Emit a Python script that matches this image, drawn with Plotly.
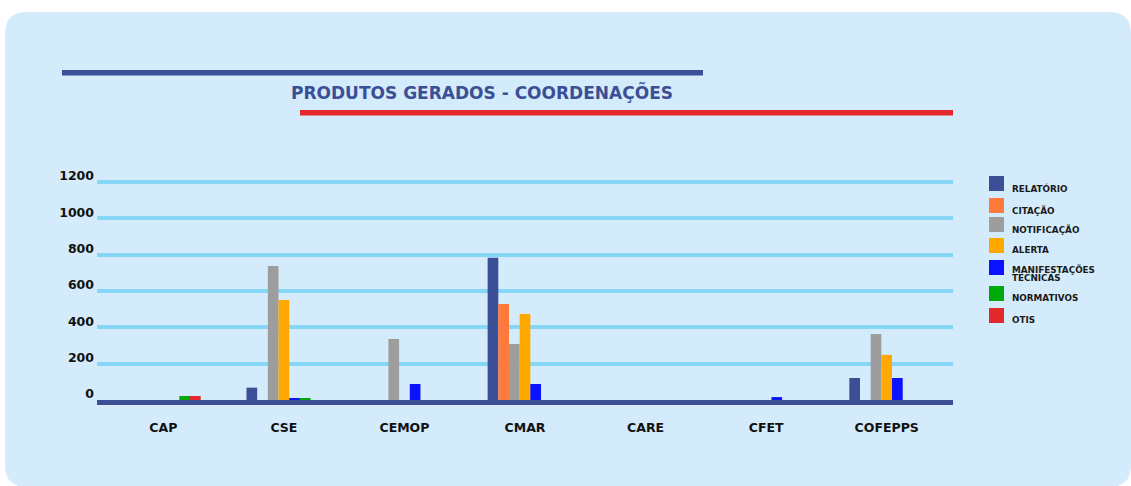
import plotly.graph_objects as go

# Coordination units and product categories
categories = ["CAP", "CSE", "CEMOP", "CMAR", "CARE", "CFET", "COFEPPS"]

relatorio = [0, 68, 0, 783, 0, 0, 121]
citacao = [0, 0, 0, 528, 0, 0, 0]
notificacao = [0, 738, 336, 308, 0, 0, 363]
alerta = [0, 550, 0, 473, 0, 0, 248]
manifestacoes = [0, 11, 88, 88, 0, 16, 121]
normativos = [22, 11, 0, 0, 0, 0, 0]
otis = [22, 0, 0, 0, 0, 0, 0]

series_names = ["RELATÓRIO", "CITAÇÃO", "NOTIFICAÇÃO", "ALERTA",
                "MANIFESTAÇÕES<br>TECNICAS", "NORMATIVOS", "OTIS"]
series_values = [relatorio, citacao, notificacao, alerta,
                 manifestacoes, normativos, otis]
series_colors = ["#3b4f97", "#ff793a", "#9d9d9d", "#ffa800",
                 "#0a12ff", "#00a90a", "#e2282a"]

y_ticks = [0, 200, 400, 600, 800, 1000, 1200]

FONT = "DejaVu Sans"
W, H = 1131, 486
PL, PR, PT, PB = 97, 953, 160, 400  # plot area in pixels

def xp(px):
    return (px - PL) / (PR - PL)

def yp(py):
    return (PB - py) / (PB - PT)

fig = go.Figure()
for name, vals, col in zip(series_names, series_values, series_colors):
    fig.add_trace(go.Bar(x=categories, y=vals, name=name.replace("<br>", " "),
                         marker=dict(color=col, line=dict(width=0)),
                         showlegend=False))

shapes = []

# rounded card behind everything
cx0, cx1, cy0, cy1, r = 5, 1131, 12, 487, 22
rx, ry = r / (PR - PL), r / (PB - PT)
X0, X1, Yt, Yb = xp(cx0), xp(cx1), yp(cy0), yp(cy1)
card = (f"M {X0+rx},{Yt} L {X1-rx},{Yt} Q {X1},{Yt} {X1},{Yt-ry} "
        f"L {X1},{Yb+ry} Q {X1},{Yb} {X1-rx},{Yb} L {X0+rx},{Yb} "
        f"Q {X0},{Yb} {X0},{Yb+ry} L {X0},{Yt-ry} Q {X0},{Yt} {X0+rx},{Yt} Z")
shapes.append(dict(type="path", path=card, xref="paper", yref="paper",
                   fillcolor="#d4ebfb", line=dict(width=0), layer="below"))

# decorative title rules
shapes.append(dict(type="rect", xref="paper", yref="paper",
                   x0=xp(62), x1=xp(703), y0=yp(75.5), y1=yp(70),
                   fillcolor="#3b4f97", line=dict(width=0)))
shapes.append(dict(type="rect", xref="paper", yref="paper",
                   x0=xp(300), x1=xp(953), y0=yp(115.5), y1=yp(110),
                   fillcolor="#e2282a", line=dict(width=0)))

# baseline under the bars
shapes.append(dict(type="rect", xref="paper", yref="paper",
                   x0=0, x1=1, y0=yp(405), y1=yp(400),
                   fillcolor="#3b4f97", line=dict(width=0), layer="above"))

annotations = [dict(text="<b>PRODUTOS GERADOS - COORDENAÇÕES</b>",
                    xref="paper", yref="paper", x=xp(482), y=yp(92),
                    xanchor="center", yanchor="middle", showarrow=False,
                    font=dict(family=FONT, size=17, color="#3b4f97"))]

# legend drawn as swatches and labels
leg_tops = [176, 198, 217, 238, 260, 286, 308]
for name, col, top in zip(series_names, series_colors, leg_tops):
    shapes.append(dict(type="rect", xref="paper", yref="paper",
                       x0=xp(989), x1=xp(1004), y0=yp(top + 15), y1=yp(top),
                       fillcolor=col, line=dict(width=0)))
    lines = name.split("<br>")
    first_y = top + 12 - 3 * (len(lines) - 1)
    for i, line in enumerate(lines):
        annotations.append(dict(text=f"<b>{line}</b>", xref="paper", yref="paper",
                                x=xp(1010), y=yp(first_y + 9 * i),
                                xanchor="left", yanchor="middle",
                                align="left", showarrow=False,
                                font=dict(family=FONT, size=8.8, color="#1a1a1a")))

fig.update_layout(
    width=W, height=H,
    margin=dict(l=PL, r=W - PR, t=PT, b=H - PB, pad=0),
    paper_bgcolor="white",
    plot_bgcolor="rgba(0,0,0,0)",
    barmode="group",
    bargap=0.38,
    bargroupgap=0,
    shapes=shapes,
    annotations=annotations,
    xaxis=dict(range=[-0.55, 6.55], showgrid=False, zeroline=False,
               showline=False, ticks="", ticklabelstandoff=18,
               tickfont=dict(family=FONT, size=12.5, color="#111111"),
               tickprefix="<b>", ticksuffix="</b>"),
    yaxis=dict(range=[0, 1321], tickvals=y_ticks,
               ticktext=[f"<b>{v}</b>" for v in y_ticks],
               showgrid=True, gridcolor="#86d6f6", gridwidth=4,
               zeroline=True, zerolinecolor="rgba(0,0,0,0)", zerolinewidth=0,
               showline=False, ticks="", ticklabelposition="outside",
               ticklabelstandoff=2, ticklabelshift=-6,
               tickfont=dict(family=FONT, size=12.5, color="#111111")),
)

fig.write_html("out.html")
